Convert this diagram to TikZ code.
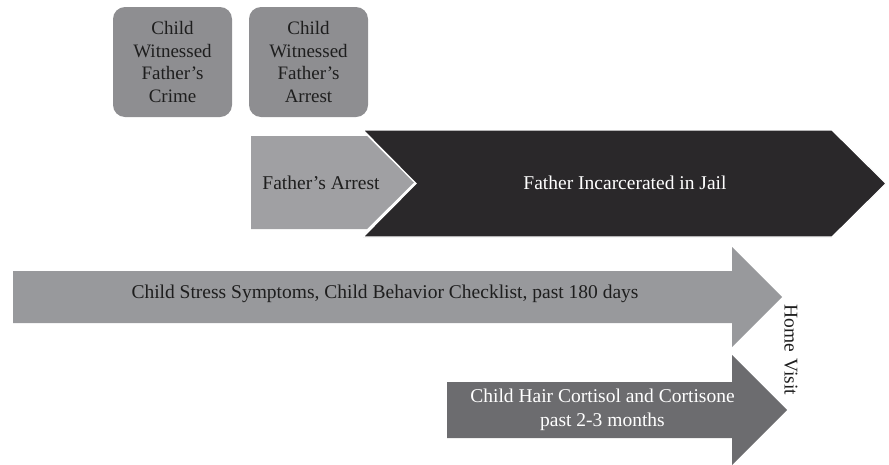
\documentclass[tikz,border=0pt]{standalone}
\usepackage{fontspec}
\setmainfont{Liberation Serif}
\definecolor{boxgray}{RGB}{142,142,145}
\definecolor{arrestgray}{RGB}{160,160,163}
\definecolor{stressgray}{RGB}{152,153,156}
\definecolor{hairgray}{RGB}{108,108,111}
\definecolor{jailblack}{RGB}{42,40,42}
\definecolor{textdark}{RGB}{30,30,30}
\begin{document}
\begin{tikzpicture}[x=1pt,y=-1pt,
  lbl/.style={font=\fontsize{19.5}{23.5}\selectfont, align=center, inner sep=0pt},
  eventbox/.style={lbl, font=\fontsize{19}{22.7}\selectfont, rounded corners=12pt, fill=boxgray, text=textdark,
    minimum width=119pt, minimum height=110pt},
  shapeedge/.style={draw=white, line width=1.2pt, line join=miter}]
\useasboundingbox (0,0) rectangle (889,464);
% event boxes
\node[eventbox] (crime) at (172.5,62) {Child\\Witnessed\\Father's\\Crime};
\node[eventbox] (witarrest) at (308.5,62) {Child\\Witnessed\\Father's\\Arrest};
% father's arrest chevron
\fill[arrestgray] (251,136) -- (367,136) -- (414,182.5) -- (367,229) -- (251,229) -- cycle;
\node[lbl, text=textdark] (arrest) at (321,183) {Father's Arrest};
% jail chevron
\filldraw[fill=jailblack, shapeedge] (363,130) -- (832,130) -- (886,183.5) -- (832,237) -- (363,237) -- (416,183.5) -- cycle;
\node[lbl, text=white] (jail) at (625,183) {Father Incarcerated in Jail};
% stress arrow
\fill[stressgray] (13,271) -- (732,271) -- (732,247) -- (782,297) -- (732,347) -- (732,323) -- (13,323) -- cycle;
\node[lbl, text=textdark] (stress) at (385,294) {Child Stress Symptoms, Child Behavior Checklist, past 180 days};
% hair arrow
\fill[hairgray] (447,382) -- (732,382) -- (732,355) -- (787,410) -- (732,465) -- (732,438) -- (447,438) -- cycle;
\node[lbl, text=white] (hair) at (602.5,410) {Child Hair Cortisol and Cortisone\\past 2-3 months};
% home visit
\node[lbl, text=textdark, rotate=-90] (visit) at (791,350) {Home\hspace{6pt}Visit};
\end{tikzpicture}
\end{document}
